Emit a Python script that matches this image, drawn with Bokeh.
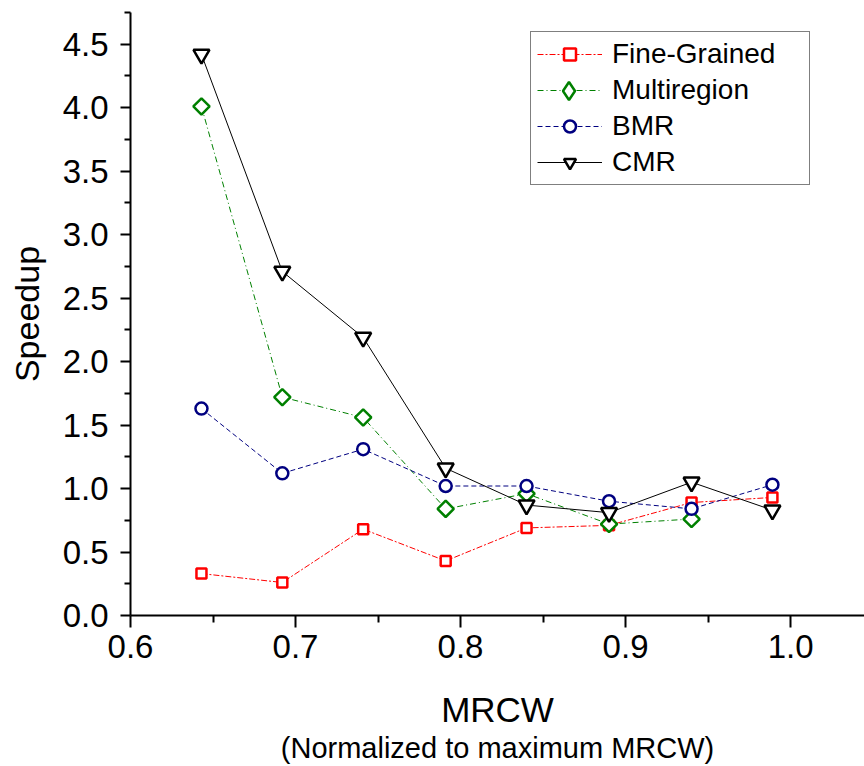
import math
from bokeh.plotting import figure
from bokeh.models import Legend, LegendItem, FixedTicker, Title, Range1d
from bokeh.embed import file_html
from bokeh.resources import INLINE

# ---- data ----
mrcw = [0.643, 0.692, 0.741, 0.791, 0.840, 0.890, 0.940, 0.989]
fine_grained = [0.33, 0.26, 0.68, 0.43, 0.69, 0.71, 0.89, 0.93]
multiregion = [4.01, 1.72, 1.56, 0.84, 0.96, 0.72, 0.76]
bmr = [1.63, 1.12, 1.31, 1.02, 1.02, 0.90, 0.84, 1.03]
cmr = [4.42, 2.71, 2.19, 1.16, 0.87, 0.81, 1.05, 0.83]

series_names = ["Fine-Grained", "Multiregion", "BMR", "CMR"]

x_ticks = [0.6, 0.7, 0.8, 0.9, 1.0]
x_tick_labels = ["0.6", "0.7", "0.8", "0.9", "1.0"]
x_minor_ticks = [0.65, 0.75, 0.85, 0.95]
y_ticks = [0.0, 0.5, 1.0, 1.5, 2.0, 2.5, 3.0, 3.5, 4.0, 4.5]
y_tick_labels = ["0.0", "0.5", "1.0", "1.5", "2.0", "2.5", "3.0", "3.5", "4.0", "4.5"]
y_minor_ticks = [0.25, 0.75, 1.25, 1.75, 2.25, 2.75, 3.25, 3.75, 4.25, 4.75]

FONT = "Liberation Sans"

p = figure(width=864, height=766,
           x_range=Range1d(0.6, 1.0448), y_range=Range1d(0, 4.75),
           output_backend="svg", toolbar_location=None, title=None,
           min_border_left=130, min_border_right=0,
           min_border_top=12, min_border_bottom=151)
p.grid.visible = False
p.outline_line_color = None
p.background_fill_color = "white"
p.border_fill_color = "white"

xa = p.xaxis[0]
ya = p.yaxis[0]
xa.ticker = FixedTicker(ticks=x_ticks, minor_ticks=x_minor_ticks)
ya.ticker = FixedTicker(ticks=y_ticks, minor_ticks=y_minor_ticks)
xa.major_label_overrides = dict(zip(x_ticks, x_tick_labels))
ya.major_label_overrides = dict(zip(y_ticks, y_tick_labels))

for ax in (xa, ya):
    ax.axis_line_width = 2
    ax.axis_line_color = "black"
    ax.major_tick_line_width = 2
    ax.minor_tick_line_width = 2
    ax.major_tick_line_color = "black"
    ax.minor_tick_line_color = "black"
    ax.major_tick_in = 0
    ax.minor_tick_in = 0
    ax.major_label_text_font = FONT
    ax.major_label_text_font_size = "33px"
    ax.major_label_text_color = "black"
    ax.axis_label_text_font = FONT
    ax.axis_label_text_font_style = "normal"
    ax.axis_label_text_color = "black"

xa.major_tick_out = 12
xa.minor_tick_out = 7
xa.major_label_standoff = 7
xa.axis_label = "MRCW"
xa.axis_label_text_font_size = "35px"
xa.axis_label_standoff = 29

ya.major_tick_out = 10
ya.minor_tick_out = 6
ya.major_label_standoff = 12
ya.axis_label = "Speedup"
ya.axis_label_text_font_size = "34px"
ya.axis_label_standoff = 14

p.add_layout(Title(text="(Normalized to maximum MRCW)", align="center",
                   text_font=FONT, text_font_size="29px",
                   text_font_style="normal", text_color="black",
                   standoff=-4, offset=4), "below")

styles = [
    dict(y=fine_grained, color="#FF0000", dash="6 2 2 2", marker="square", size=10, angle=0.0),
    dict(y=multiregion, color="#008000", dash="6 3 1 3", marker="square", size=11.5, angle=math.pi / 4),
    dict(y=bmr, color="#000080", dash="5 3", marker="circle", size=12, angle=0.0),
    dict(y=cmr, color="#000000", dash="solid", marker="inverted_triangle", size=16, angle=0.0),
]

items = []
diamond_items = []
for name, st in zip(series_names, styles):
    xs = mrcw[:len(st["y"])]
    lr = p.line(xs, st["y"], line_color=st["color"], line_width=1, line_dash=st["dash"])
    sr = p.scatter(xs, st["y"], marker=st["marker"], size=st["size"], angle=st["angle"],
                   line_color=st["color"], line_width=2.5, fill_color="white")
    if st["angle"] == 0.0:
        items.append(LegendItem(label=name, renderers=[lr, sr]))
    else:
        # legend markers are never rotated: show the line in the main legend and
        # overlay a diamond from a hidden renderer in a second, borderless legend
        hr = p.scatter(xs, st["y"], marker="diamond", size=st["size"],
                       line_color=st["color"], line_width=2.5, fill_color="white", visible=False)
        items.append(LegendItem(label=name, renderers=[lr]))
        diamond_items.append(LegendItem(label=" ", renderers=[hr]))

legend = Legend(items=items, location=(400, 430),
                label_text_font=FONT, label_text_font_size="28px", label_text_color="black",
                glyph_width=65, glyph_height=30, label_height=30, label_width=191,
                label_standoff=10, padding=6, spacing=4, margin=0,
                border_line_color="black", border_line_width=1.5,
                background_fill_color="white", background_fill_alpha=1.0,
                inactive_fill_alpha=0.0)
p.add_layout(legend)

legend2 = Legend(items=diamond_items, location=(406, 502),
                 label_text_font=FONT, label_text_font_size="10px",
                 glyph_width=65, glyph_height=45, label_height=10, label_width=0,
                 label_standoff=0, padding=0, spacing=0, margin=0,
                 border_line_color=None, background_fill_alpha=0.0,
                 inactive_fill_alpha=0.0)
p.add_layout(legend2)

open("out.html", "w").write(file_html(p, INLINE))
